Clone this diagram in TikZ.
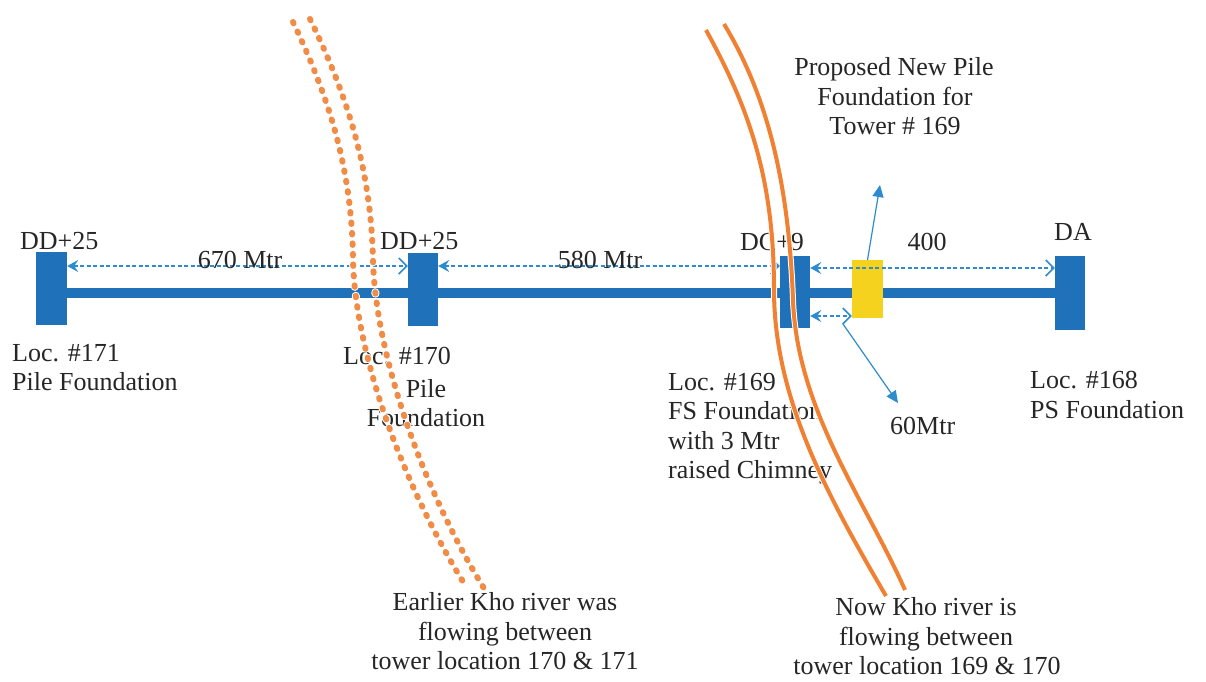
\documentclass[tikz,border=0pt]{standalone}
\usepackage{fontspec}
\setmainfont{Liberation Serif}
\usetikzlibrary{arrows.meta}
\definecolor{tower}{RGB}{31,114,186}
\definecolor{dimc}{RGB}{45,140,205}
\definecolor{river}{RGB}{240,128,50}
\definecolor{oldrivc}{RGB}{240,140,70}
\definecolor{newfd}{RGB}{245,210,30}
\begin{document}
\begin{tikzpicture}[x=1pt,y=-1pt,
  font=\fontsize{26}{30}\selectfont,
  towerbox/.style={fill=tower, draw=none, minimum width=30pt, minimum height=73pt, inner sep=0pt},
  newbox/.style={fill=newfd, draw=none, minimum width=31pt, minimum height=58pt, inner sep=0pt},
  lbl/.style={inner sep=0pt, text=black!85},
  dimline/.style={draw=dimc, line width=1.5pt, dash pattern=on 4pt off 2.5pt,
    {Stealth[length=11pt,width=12pt,inset=4pt]}-{Straight Barb[length=8pt,width=16pt,line width=1.5pt]}},
  pointer/.style={draw=dimc, line width=1.2pt, -{Triangle[length=12pt,width=11pt]}},
  mainline/.style={draw=tower, line width=10pt},
  halo/.style={draw=white, line width=6pt},
  riverline/.style={draw=river, line width=4pt},
  oldhalo/.style={draw=white, line width=8pt, line cap=round, dash pattern=on 1.5pt off 9pt},
  oldriver/.style={draw=oldrivc, line width=6pt, line cap=round, dash pattern=on 1.5pt off 9pt},
]
\useasboundingbox (0,0) rectangle (1206,681);
\fill[white] (0,0) rectangle (1206,681);

% towers
\node[towerbox, minimum width=31pt] (t171) at (51.5,288.5) {};
\node[towerbox] (t170) at (423,289.5) {};
\node[towerbox, minimum height=72pt] (t169) at (795,292) {};
\node[towerbox, minimum height=74pt] (t168) at (1070,293) {};

% main line
\draw[mainline] (t171.east |- {(0,293)}) -- (t168.west |- {(0,293)});

% proposed foundation
\node[newbox] (newp) at (867.5,289) {};

% dimension arrows
\draw[dimline] (t171.east |- {(0,266)}) -- (t170.west |- {(0,266)});
\draw[dimline] (t170.east |- {(0,266)}) -- (t169.west |- {(0,266)});
\draw[dimline] (t169.east |- {(0,268)}) -- (t168.west |- {(0,268)});
\draw[dimline] (t169.east |- {(0,316)}) -- (newp.west |- {(0,316)});

% pointers
\coordinate (upend) at (880,185);
\coordinate (dnstart) at (843,324);
\coordinate (dnend) at (898,403);
\draw[pointer] (newp.north) -- (upend);
\draw[pointer] (dnstart) -- (dnend);

% labels
\node[lbl, anchor=base west] (l1) at (20,249) {DD+25};
\node[lbl, anchor=base west] (l2) at (380,249) {DD+25};
\node[lbl, anchor=base west] (l3) at (740,250) {DC+9};
\node[lbl, anchor=base] (l4) at (1073,240) {DA};
\node[lbl, anchor=base] (l5) at (927,250) {400};
\node[lbl, anchor=base] (d1) at (240,268) {670 Mtr};
\node[lbl, anchor=base] (d2) at (600,268) {580 Mtr};
\node[lbl, anchor=base west] (d3) at (890,434) {60Mtr};

\node[lbl, anchor=base west] at (12,361) {Loc. \#171};
\node[lbl, anchor=base west] at (12,390) {Pile Foundation};

\node[lbl, anchor=base west] at (343,364) {Loc. \#170};
\node[lbl, anchor=base] at (426,397) {Pile};
\node[lbl, anchor=base] at (426,426) {Foundation};

\node[lbl, anchor=base west] at (668,390) {Loc. \#169};
\node[lbl, anchor=base west] at (668,419) {FS Foundation};
\node[lbl, anchor=base west] at (668,449) {with 3 Mtr};
\node[lbl, anchor=base west] at (668,478) {raised Chimney};

\node[lbl, anchor=base west] at (1030,388) {Loc. \#168};
\node[lbl, anchor=base west] at (1030,418) {PS Foundation};

\node[lbl, anchor=base] at (894,75) {Proposed New Pile};
\node[lbl, anchor=base] at (895,105) {Foundation for};
\node[lbl, anchor=base] at (895,134) {Tower \# 169};

\node[lbl, anchor=base] at (505,610) {Earlier Kho river was};
\node[lbl, anchor=base] at (505,640) {flowing between};
\node[lbl, anchor=base] at (505,669) {tower location 170 \& 171};

\node[lbl, anchor=base] at (926,615) {Now Kho river is};
\node[lbl, anchor=base] at (926,645) {flowing between};
\node[lbl, anchor=base] at (927,674) {tower location 169 \& 170};

% earlier river (dotted)
\foreach \s in {oldhalo,oldriver}{
  \draw[\s] (293,22) .. controls (330,100) and (352,170) .. (353,260)
            .. controls (355,350) and (400,480) .. (465,585);
  \draw[\s] (310,19) .. controls (348,97) and (371,170) .. (373,260)
            .. controls (375,350) and (420,485) .. (485,590);
}

% present river (solid)
\foreach \s in {halo,riverline}{
  \draw[\s] (706,30) .. controls (750,110) and (774,180) .. (774,290)
            .. controls (774,400) and (830,500) .. (886,596);
  \draw[\s] (724,24) .. controls (770,100) and (789,190) .. (793,300)
            .. controls (797,410) and (865,500) .. (905,590);
}
\end{tikzpicture}
\end{document}
